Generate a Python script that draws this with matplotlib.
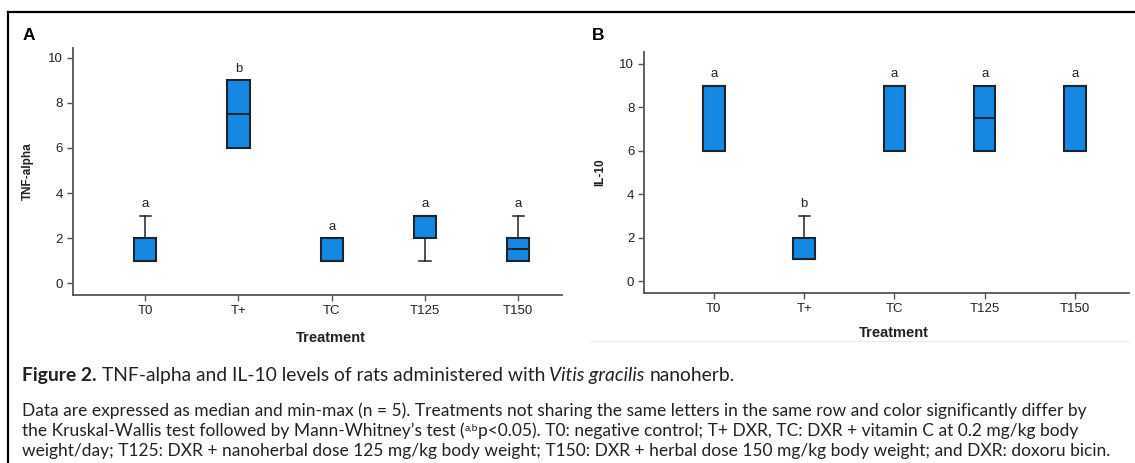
import matplotlib
matplotlib.use("Agg")
import matplotlib.pyplot as plt
from matplotlib.lines import Line2D

# Figure size in pixels (dpi = 100)
W, H = 1135, 463

# Data: median and min-max per treatment (box = q1..q3, whiskers = min..max)
treatments = ["T0", "T+", "TC", "T125", "T150"]

tnf_min = [1, 6, 1, 1, 1]
tnf_q1 = [1, 6, 1, 2, 1]
tnf_med = [1, 7.5, 1, 3, 1.5]
tnf_q3 = [2, 9, 2, 3, 2]
tnf_max = [3, 9, 2, 3, 3]
tnf_letters = ["a", "b", "a", "a", "a"]

il10_min = [6, 1, 6, 6, 6]
il10_q1 = [6, 1, 6, 6, 6]
il10_med = [9, 1, 9, 7.5, 9]
il10_q3 = [9, 2, 9, 9, 9]
il10_max = [9, 3, 9, 9, 9]
il10_letters = ["a", "b", "a", "a", "a"]

BLUE = "#1788e2"
EDGE = "#1b2530"
AXIS = "#555555"
TXT = "#222222"
ARIAL = "Liberation Sans"
CAPTION_FONT = "Lato"


def fx(x):
    return x / W


def fy(y):
    return 1 - y / H


def rect_px(left, top, right, bottom):
    """ Axes rectangle from pixel edges """
    return [fx(left), fy(bottom), (right - left) / W, (bottom - top) / H]


def draw_panel(fig, rect, lo, q1, med, q3, hi, letters, ylabel, xlim, ylim, letter_off):
    """ Draws one SPSS-like boxplot panel """
    ax = fig.add_axes(rect)
    stats = []
    for a, b, c, d, e in zip(lo, q1, med, q3, hi):
        stats.append(dict(whislo=a, q1=b, med=c, q3=d, whishi=e, fliers=[]))
    pos = list(range(1, len(stats) + 1))
    ax.bxp(stats, positions=pos, widths=0.24, capwidths=0.12,
           patch_artist=True, showfliers=False,
           boxprops=dict(facecolor=BLUE, edgecolor=EDGE, linewidth=1.5),
           medianprops=dict(color=EDGE, linewidth=1.5),
           whiskerprops=dict(color=EDGE, linewidth=1.1),
           capprops=dict(color=EDGE, linewidth=1.1))
    # significance letters above the max
    for p, top, let in zip(pos, hi, letters):
        ax.annotate(let, (p, top), xytext=(0, letter_off), textcoords="offset points",
                    ha="center", va="center", fontsize=9.5, color=TXT, family=ARIAL)
    ax.set_xlim(*xlim)
    ax.set_ylim(*ylim)
    ax.set_xticks(pos)
    ax.set_xticklabels(treatments)
    ax.set_yticks(range(0, 11, 2))
    for s in ["top", "right"]:
        ax.spines[s].set_visible(False)
    for s in ["left", "bottom"]:
        ax.spines[s].set_color(AXIS)
        ax.spines[s].set_linewidth(1.3)
    ax.tick_params(direction="out", length=4.5, width=1, color=AXIS,
                   labelsize=9.5, labelcolor=TXT, pad=2.5)
    for lab in ax.get_xticklabels() + ax.get_yticklabels():
        lab.set_family(ARIAL)
    ax.set_ylabel(ylabel, fontsize=8.5, fontweight="bold", family=ARIAL, color=TXT)
    ax.yaxis.label.set_va("center")
    ax.yaxis.set_label_coords(-0.091, 0.5)
    ax.set_xlabel("Treatment", fontsize=10.5, fontweight="bold", family=ARIAL, color=TXT)
    ax.xaxis.label.set_va("center")
    return ax


fig = plt.figure(figsize=(W / 100, H / 100), dpi=100)

axA = draw_panel(fig, rect_px(72.5, 48, 562, 295), tnf_min, tnf_q1, tnf_med, tnf_q3, tnf_max,
                 tnf_letters, "TNF-alpha", (0.22, 5.47), (-0.53, 10.44), 8)
axA.xaxis.set_label_coords((331 - 72.5) / 489.5, (295 - 338) / 247)

axB = draw_panel(fig, rect_px(644, 52, 1129, 293), il10_min, il10_q1, il10_med, il10_q3, il10_max,
                 il10_letters, "IL-10", (0.225, 5.6), (-0.55, 10.55), 8.5)
axB.xaxis.set_label_coords((894 - 644) / 485, (293 - 333) / 241)

# panel tags
fig.text(fx(23), fy(36), "A", fontsize=12.5, fontweight="bold", family=ARIAL, va="center")
fig.text(fx(592), fy(36), "B", fontsize=12.5, fontweight="bold", family=ARIAL, va="center")

# outer frame (top and left edges) and faint separator
fig.add_artist(Line2D([fx(8), fx(1135)], [fy(12), fy(12)], color="black", lw=1.6,
                      transform=fig.transFigure))
fig.add_artist(Line2D([fx(8), fx(8)], [fy(12), fy(463)], color="black", lw=1.6,
                      transform=fig.transFigure))
fig.add_artist(Line2D([fx(590), fx(1129)], [fy(341), fy(341)], color="#ececec", lw=0.8,
                      transform=fig.transFigure))

renderer = fig.canvas.get_renderer()


def text_width(s, size, **kw):
    """ Width in pixels of a text drawn with the caption font """
    t = fig.text(0, 0, s, fontsize=size, family=CAPTION_FONT, **kw)
    w = t.get_window_extent(renderer).width
    t.remove()
    return w


def draw_pieces(x0, y, pieces, size):
    """ Draws consecutive text pieces on one baseline, returns end x """
    x = x0
    for s, kw, space in pieces:
        kw = dict(kw)
        scale = kw.pop("scale", 1.0)
        rise = kw.pop("rise", 0)
        if space:
            x += text_width("a a", size, **kw) - text_width("aa", size, **kw)
        t = fig.text(fx(x), fy(y - rise), s, fontsize=size * scale, family=CAPTION_FONT,
                     va="baseline", ha="left", color=TXT, **kw)
        x = t.get_window_extent(renderer).x1
    return x


title_pieces = [
    ("Figure 2.", dict(fontweight="bold"), False),
    ("TNF-alpha and IL-10 levels of rats administered with", {}, True),
    ("Vitis gracilis", dict(style="italic"), True),
    ("nanoherb.", {}, True),
]
line2 = ("Data are expressed as median and min-max (n = 5). Treatments not sharing the same "
         "letters in the same row and color significantly differ by")
line3_pieces = [
    ("the Kruskal-Wallis test followed by Mann-Whitney\u2019s test (", {}, False),
    ("a,b", dict(scale=0.6, rise=5), False),
    ("p<0.05). T0: negative control; T+ DXR, TC: DXR + vitamin C at 0.2 mg/kg body", {}, False),
]
line4 = ("weight/day; T125: DXR + nanoherbal dose 125 mg/kg body weight; T150: DXR + herbal "
         "dose 150 mg/kg body weight; and DXR: doxoru bicin.")

# fit caption sizes to the widths seen in the reference
body_size = 10 * 1062 / text_width(line2, 10)
title_size = body_size * 1.11

x_left = 22
draw_pieces(x_left, 381, title_pieces, title_size)
draw_pieces(x_left, 416, [(line2, {}, False)], body_size)
draw_pieces(x_left, 436, line3_pieces, body_size)
draw_pieces(x_left, 456, [(line4, {}, False)], body_size)

plt.savefig("out.png", dpi=100)
